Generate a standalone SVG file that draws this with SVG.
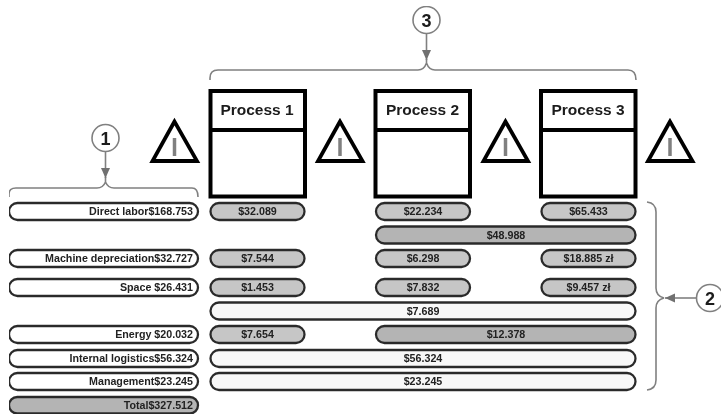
<svg xmlns="http://www.w3.org/2000/svg" width="721" height="415" viewBox="0 0 721 415">
<style>
text{font-family:"Liberation Sans",Arial,sans-serif;font-weight:bold;fill:#222}
.v{font-size:10.700px;text-anchor:middle}
.l{font-size:10.700px;text-anchor:end}
.h{font-size:15.500px;text-anchor:middle;fill:#1c1c1c}
.n{font-size:18px;text-anchor:middle;fill:#1c1c1c}
.p{stroke:#2c2c2c;stroke-width:2.300}
.w{fill:#fff}.g{fill:#c6c6c6}.d{fill:#b4b4b4}.f{fill:#f8f8f8}
.box{fill:#fff;stroke:#050505;stroke-width:4}
.tri{fill:#fff;stroke:#050505;stroke-width:3.800;stroke-linejoin:miter}
.bar{stroke:#808080;stroke-width:3.500}
.c{fill:#fff;stroke:#808080;stroke-width:1.600}
.b{fill:none;stroke:#808080;stroke-width:1.600}
</style>
<defs>
<marker id="a" markerWidth="11" markerHeight="12" refX="10" refY="5" orient="auto" markerUnits="userSpaceOnUse"><path d="M0 0.500L10 5L0 9.500Z" fill="#707070"/></marker>
<filter id="s" x="0" y="0" width="100%" height="100%"><feGaussianBlur stdDeviation="0.4"/></filter>
</defs>
<g filter="url(#s)">
<g id="connectors">
<path class="b" d="M9 197V194Q9 188 16 188H97Q103 188 105.500 182Q108 188 114 188H192Q198 188 198 197M105.500 177V182"/>
<path class="b" d="M210 80V78Q210 70 218 70H418Q424 70 426.500 63Q429 70 435 70H628Q636 70 636 80M426.500 59V63"/>
<path class="b" d="M647 202Q656 203 656 212V288Q656 296 664 298Q656 300 656 308V380Q656 389 647 390"/>
<path class="b" marker-end="url(#a)" d="M105.500 151.500V178"/>
<path class="b" marker-end="url(#a)" d="M426.500 33.500V60"/>
<path class="b" marker-end="url(#a)" d="M697 298H665"/>
</g>
<g id="marker-1"><circle class="c" cx="105.500" cy="138" r="13.500"/><text class="n" x="105.500" y="144.500">1</text></g>
<g id="marker-2"><circle class="c" cx="710" cy="298" r="13.500"/><text class="n" x="710" y="304.500">2</text></g>
<g id="marker-3"><circle class="c" cx="426.500" cy="20" r="13.500"/><text class="n" x="426.500" y="26.500">3</text></g>
<g id="process-1"><rect class="box" x="210.500" y="91" width="94.500" height="105.500"/><path class="box" d="M210.500 130H305"/><text class="h" x="257" y="115">Process 1</text></g>
<g id="process-2"><rect class="box" x="375.500" y="91" width="94.500" height="105.500"/><path class="box" d="M375.500 130H470"/><text class="h" x="422.500" y="115">Process 2</text></g>
<g id="process-3"><rect class="box" x="541" y="91" width="94.500" height="105.500"/><path class="box" d="M541 130H635.500"/><text class="h" x="588" y="115">Process 3</text></g>
<g id="warning-1"><path class="tri" d="M174.500 121.500L152.500 161H197Z"/><path class="bar" d="M174.500 138V156"/></g>
<g id="warning-2"><path class="tri" d="M340 121.500L318 161H362.500Z"/><path class="bar" d="M340 138V156"/></g>
<g id="warning-3"><path class="tri" d="M505.500 121.500L483.500 161H528Z"/><path class="bar" d="M505.500 138V156"/></g>
<g id="warning-4"><path class="tri" d="M670 121.500L648 161H692.500Z"/><path class="bar" d="M670 138V156"/></g>
<g id="row-direct-labor"><rect class="p w" x="9" y="203" width="189" height="17" rx="8.500"/><text class="l" x="193" y="215">Direct labor$168.753</text></g>
<g id="row-machine"><rect class="p w" x="9" y="250" width="189" height="17" rx="8.500"/><text class="l" x="193" y="262">Machine depreciation$32.727</text></g>
<g id="row-space"><rect class="p w" x="9" y="279" width="189" height="17" rx="8.500"/><text class="l" x="193" y="291">Space $26.431</text></g>
<g id="row-energy"><rect class="p w" x="9" y="326" width="189" height="17" rx="8.500"/><text class="l" x="193" y="338">Energy $20.032</text></g>
<g id="row-logistics"><rect class="p w" x="9" y="350" width="189" height="17" rx="8.500"/><text class="l" x="193" y="362">Internal logistics$56.324</text></g>
<g id="row-management"><rect class="p w" x="9" y="373" width="189" height="17" rx="8.500"/><text class="l" x="193" y="385">Management$23.245</text></g>
<g id="row-total"><rect class="p d" x="9" y="397" width="189" height="16.500" rx="8.250"/><text class="l" x="193" y="409">Total$327.512</text></g>
<g id="cost-p1-labor"><rect class="p g" x="210.500" y="203" width="94" height="17" rx="8.500"/><text class="v" x="257.500" y="214.500">$32.089</text></g>
<g id="cost-p2-labor"><rect class="p g" x="376" y="203" width="94" height="17" rx="8.500"/><text class="v" x="423" y="214.500">$22.234</text></g>
<g id="cost-p3-labor"><rect class="p g" x="541.500" y="203" width="94" height="17" rx="8.500"/><text class="v" x="588.500" y="214.500">$65.433</text></g>
<g id="cost-shared-48"><rect class="p d" x="376" y="226.500" width="259.500" height="17" rx="8.500"/><text class="v" x="506" y="238.500">$48.988</text></g>
<g id="cost-p1-machine"><rect class="p g" x="210.500" y="250" width="94" height="17" rx="8.500"/><text class="v" x="257.500" y="262">$7.544</text></g>
<g id="cost-p2-machine"><rect class="p g" x="376" y="250" width="94" height="17" rx="8.500"/><text class="v" x="423" y="262">$6.298</text></g>
<g id="cost-p3-machine"><rect class="p g" x="541.500" y="250" width="94" height="17" rx="8.500"/><text class="v" x="588.500" y="262">$18.885 zł</text></g>
<g id="cost-p1-space"><rect class="p g" x="210.500" y="279" width="94" height="17" rx="8.500"/><text class="v" x="257.500" y="291">$1.453</text></g>
<g id="cost-p2-space"><rect class="p g" x="376" y="279" width="94" height="17" rx="8.500"/><text class="v" x="423" y="291">$7.832</text></g>
<g id="cost-p3-space"><rect class="p g" x="541.500" y="279" width="94" height="17" rx="8.500"/><text class="v" x="588.500" y="291">$9.457 zł</text></g>
<g id="cost-all-7689"><rect class="p f" x="210.500" y="302.500" width="425" height="17" rx="8.500"/><text class="v" x="423" y="314.500">$7.689</text></g>
<g id="cost-p1-energy"><rect class="p g" x="210.500" y="326" width="94" height="17" rx="8.500"/><text class="v" x="257.500" y="338">$7.654</text></g>
<g id="cost-shared-12"><rect class="p d" x="376" y="326" width="259.500" height="17" rx="8.500"/><text class="v" x="506" y="338">$12.378</text></g>
<g id="cost-all-logistics"><rect class="p f" x="210.500" y="350" width="425" height="17" rx="8.500"/><text class="v" x="423" y="361.500">$56.324</text></g>
<g id="cost-all-management"><rect class="p f" x="210.500" y="373" width="425" height="17" rx="8.500"/><text class="v" x="423" y="385">$23.245</text></g>
</g>
</svg>
